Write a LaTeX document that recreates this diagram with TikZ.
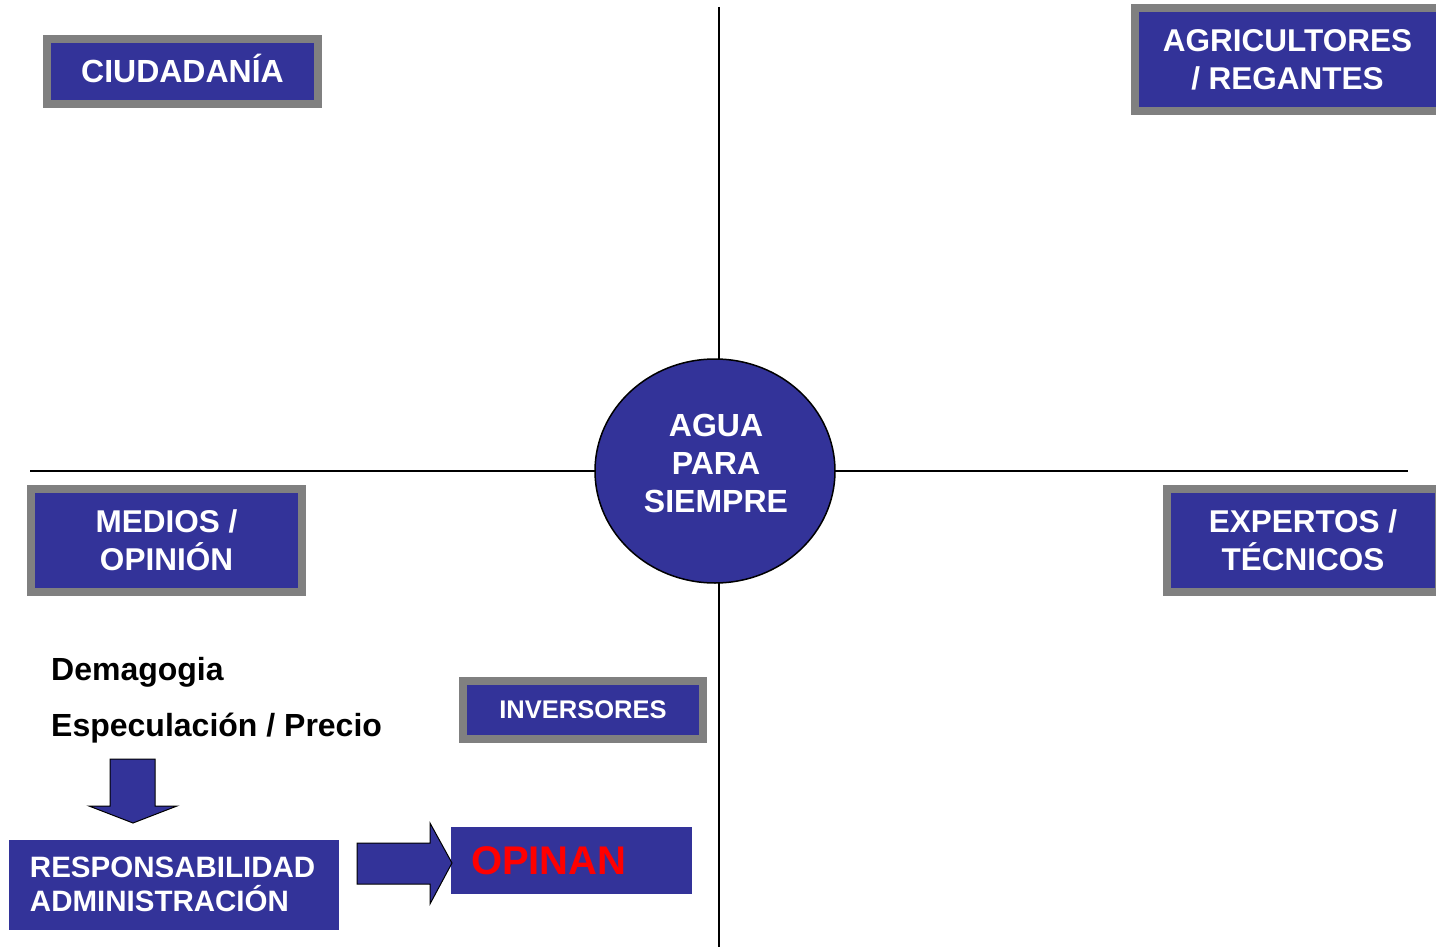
\documentclass[tikz,border=0pt]{standalone}
\usepackage{fontspec}
\setmainfont{Liberation Sans}
\usetikzlibrary{shapes.geometric}
\definecolor{azul}{HTML}{333399}
\definecolor{gris}{HTML}{808080}

\begin{document}
\begin{tikzpicture}[x=1pt, y=-1pt,
    caja/.style={rectangle, draw=gris, line width=8pt, fill=azul, text=white, inner sep=0pt, align=center, font=\bfseries\fontsize{31.5}{38}\selectfont},
    bloque/.style={rectangle, fill=azul, inner ysep=0pt, align=left},
    flecha/.style={draw=black, line width=1pt, fill=azul, line join=miter}]
      \useasboundingbox (0,0) rectangle (1436,947);

      \coordinate (arriba) at (719,7);
      \coordinate (abajo) at (719,947);
      \coordinate (izq) at (30,471);
      \coordinate (der) at (1408,471);
      \draw[line width=1.5pt] (arriba) -- (abajo);
      \draw[line width=1.5pt] (izq) -- (der);

      \node[ellipse, draw, line width=1.5pt, fill=azul, inner sep=0pt, minimum width=240pt, minimum height=224pt] (agua) at (715,471) {};
      \node[text=white, align=center, font=\bfseries\fontsize{32}{38}\selectfont] (aguatexto) at (716,463) {AGUA\\PARA\\SIEMPRE};

      \node[caja, minimum width=271pt, minimum height=65pt, text height=23pt, text depth=0pt, font=\bfseries\fontsize{32}{38}\selectfont] (ciudadania) at (182.5,71.5) {CIUDADANÍA};
      \node[caja, minimum width=305pt, minimum height=103pt] (agricultores) at (1287.5,60) {AGRICULTORES\\/ REGANTES};
      \node[caja, minimum width=271pt, minimum height=103pt] (medios) at (166.5,540) {MEDIOS /\\OPINIÓN};
      \node[caja, minimum width=272pt, minimum height=103pt] (expertos) at (1303,540) {EXPERTOS /\\TÉCNICOS};
      \node[caja, minimum width=240pt, minimum height=58pt, font=\bfseries\fontsize{25.5}{30}\selectfont] (inversores) at (583,709.5) {INVERSORES};

      \node[anchor=base west, inner sep=0pt, font=\bfseries\fontsize{32}{38}\selectfont] (demagogia) at (51,680) {Demagogia};
      \node[anchor=base west, inner sep=0pt, font=\bfseries\fontsize{32}{38}\selectfont] (especulacion) at (51,736) {Especulación / Precio};

      \node[bloque, inner xsep=21pt, text width=288pt, minimum height=90pt, text=white, font=\bfseries\fontsize{29.5}{34}\selectfont] (responsabilidad) at (174,884.5) {RESPONSABILIDAD\\ADMINISTRACIÓN};
      \node[bloque, inner xsep=20pt, text width=201pt, minimum height=67pt, text=red, font=\bfseries\fontsize{40}{46}\selectfont] (opinan) at (571.5,860.5) {OPINAN};

      % flechas de bloque
      \draw[flecha] (110,759) -- (155,759) -- (155,806) -- (177,806) -- (133,823) -- (89,806) -- (110,806) -- cycle;
      \draw[flecha] (357,843) -- (430,843) -- (430,823) -- (452,863) -- (430,904) -- (430,884) -- (357,884) -- cycle;
    \end{tikzpicture}
\end{document}
